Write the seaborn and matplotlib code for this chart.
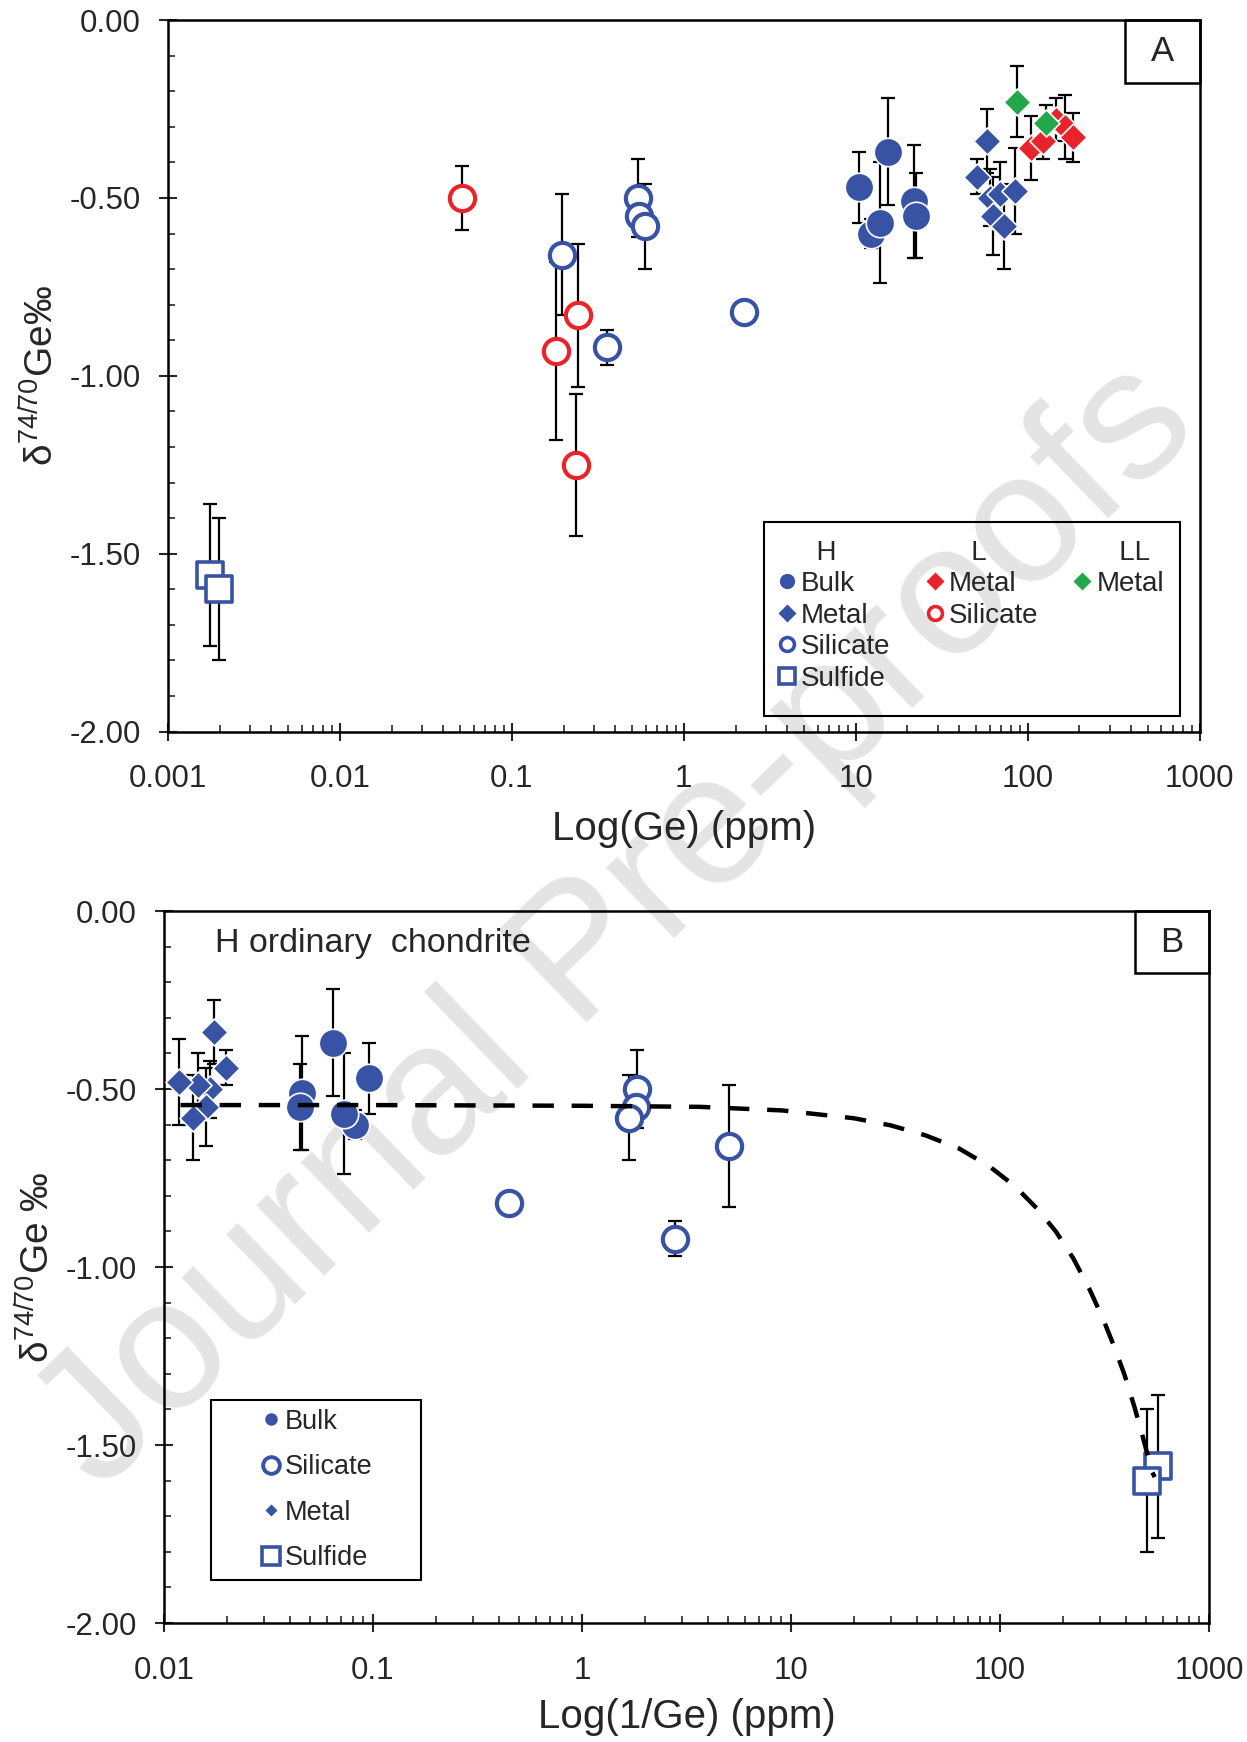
import numpy as np
import pandas as pd
import matplotlib
matplotlib.use("Agg")
import matplotlib.pyplot as plt
import seaborn as sns
from matplotlib.lines import Line2D
from matplotlib.patches import Rectangle
from matplotlib.ticker import MultipleLocator, LogLocator, FuncFormatter, NullFormatter

# ---- data (Ge in ppm, delta74/70Ge in permil) ----
# H chondrite
h_bulk_ge = [10.4, 12.2, 13.8, 15.5, 21.9, 22.3]
h_bulk_d = [-0.47, -0.60, -0.57, -0.37, -0.51, -0.55]
h_bulk_err = [0.10, 0.04, 0.17, 0.15, 0.16, 0.12]

h_metal_ge = [50.6, 57.8, 60.0, 63.0, 69.0, 72.5, 84.7]
h_metal_d = [-0.44, -0.34, -0.50, -0.55, -0.49, -0.58, -0.48]
h_metal_err = [0.05, 0.09, 0.08, 0.11, 0.09, 0.12, 0.12]

h_sil_ge = [0.197, 0.358, 0.543, 0.55, 0.594, 2.23]
h_sil_d = [-0.66, -0.92, -0.50, -0.55, -0.58, -0.82]
h_sil_err = [0.17, 0.05, 0.11, 0.03, 0.12, 0.02]

h_sulf_ge = [0.00176, 0.00198]
h_sulf_d = [-1.56, -1.60]
h_sulf_err = [0.20, 0.20]

# L chondrite
l_metal_ge = [105, 123, 146, 164, 183]
l_metal_d = [-0.36, -0.34, -0.28, -0.30, -0.33]
l_metal_err = [0.09, 0.05, 0.06, 0.09, 0.07]

l_sil_ge = [0.051, 0.18, 0.243, 0.236]
l_sil_d = [-0.50, -0.93, -0.83, -1.25]
l_sil_err = [0.09, 0.25, 0.20, 0.20]

# LL chondrite
ll_metal_ge = [87, 127]
ll_metal_d = [-0.23, -0.29]
ll_metal_err = [0.10, 0.05]

# mixing curve in panel B (1/Ge, delta)
mix_inv = [0.012, 0.1, 1.0, 3.67, 9.06, 20, 30, 44, 63.7, 88.5, 118, 150,
           185, 224, 267, 311, 350, 393, 441, 484, 534, 550]
mix_d = [-0.545, -0.545, -0.547, -0.550, -0.560, -0.582, -0.602, -0.630,
         -0.667, -0.716, -0.773, -0.835, -0.900, -0.975, -1.06, -1.145,
         -1.22, -1.30, -1.395, -1.48, -1.575, -1.59]

BLUE = "#3953A4"
RED = "#E8232A"
GREEN = "#22A84A"

sns.set_style("ticks")
plt.rcParams["font.family"] = ["Liberation Sans", "DejaVu Sans"]
plt.rcParams["mathtext.fontset"] = "custom"
plt.rcParams["mathtext.rm"] = "Liberation Sans"
plt.rcParams["mathtext.it"] = "Liberation Sans:italic"
plt.rcParams["axes.unicode_minus"] = False


def draw_group(ax, x, y, err, color, marker, size, filled, lw=1.0):
    ax.errorbar(x, y, yerr=err, fmt="none", ecolor="black", elinewidth=1.6,
                capsize=5, capthick=1.6, zorder=2)
    df = pd.DataFrame({"x": x, "y": y})
    if filled:
        sns.scatterplot(data=df, x="x", y="y", marker=marker, s=size, color=color,
                        edgecolor="white", linewidth=lw, ax=ax, zorder=3)
    else:
        sns.scatterplot(data=df, x="x", y="y", marker=marker, s=size, color="white",
                        edgecolor=color, linewidth=lw, ax=ax, zorder=3)


def style_axes(ax, xmin, xmax):
    ax.set_xscale("log")
    ax.set_xlim(xmin, xmax)
    ax.set_ylim(-2.0, 0.0)
    ax.set_facecolor("none")
    ax.yaxis.set_major_locator(MultipleLocator(0.5))
    ax.yaxis.set_minor_locator(MultipleLocator(0.1))
    ax.xaxis.set_major_locator(LogLocator(base=10, numticks=20))
    ax.xaxis.set_minor_locator(LogLocator(base=10, subs=np.arange(2, 10), numticks=50))
    ax.xaxis.set_minor_formatter(NullFormatter())
    ax.xaxis.set_major_formatter(FuncFormatter(lambda v, p: f"{v:g}"))
    ax.yaxis.set_major_formatter(FuncFormatter(lambda v, p: f"{v:.2f}"))
    ax.tick_params(which="major", direction="inout", length=13, width=1.5,
                   labelsize=22.5, top=False, right=False)
    ax.tick_params(axis="x", which="major", pad=17)
    ax.tick_params(axis="y", which="major", pad=13)
    ax.tick_params(which="minor", direction="in", length=5, width=1.2,
                   top=False, right=False)
    for sp in ax.spines.values():
        sp.set_linewidth(1.8)
        sp.set_color("black")


def panel_box(ax, x0, y0, label):
    ax.add_patch(Rectangle((x0, y0), 1.0 - x0, 1.0 - y0, transform=ax.transAxes,
                           fill=False, edgecolor="black", linewidth=1.8, zorder=5,
                           clip_on=False))
    ax.text((x0 + 1.0) / 2, (y0 + 1.0) / 2, label, transform=ax.transAxes,
            ha="center", va="center", fontsize=25, zorder=6)


fig = plt.figure(figsize=(12.47, 17.42), dpi=100)
axA = fig.add_axes([0.1347, 0.580, 0.962 - 0.1347, 0.9885 - 0.580])
axB = fig.add_axes([0.1315, 0.0683, 0.9695 - 0.1315, 0.477 - 0.0683])

# watermark behind the axes
fig.text(0.4955, 0.468, "Journal Pre-proofs", rotation=44, rotation_mode="anchor",
         ha="center", va="center", fontsize=134, color="#e4e4e4", zorder=-1)

# ---- panel A ----
style_axes(axA, 0.001, 1000)
draw_group(axA, h_sulf_ge, h_sulf_d, h_sulf_err, BLUE, "s", 330, False, 2.6)
draw_group(axA, l_sil_ge, l_sil_d, l_sil_err, RED, "o", 330, False, 3.0)
draw_group(axA, h_sil_ge, h_sil_d, h_sil_err, BLUE, "o", 330, False, 3.0)
draw_group(axA, h_bulk_ge, h_bulk_d, h_bulk_err, BLUE, "o", 420, True, 1.2)
draw_group(axA, h_metal_ge, h_metal_d, h_metal_err, BLUE, "D", 190, True, 1.2)
draw_group(axA, l_metal_ge, l_metal_d, l_metal_err, RED, "D", 190, True, 1.2)
draw_group(axA, ll_metal_ge, ll_metal_d, ll_metal_err, GREEN, "D", 190, True, 1.2)
axA.set_xlabel("Log(Ge) (ppm)", fontsize=29, labelpad=11)
axA.set_ylabel(r"δ$^{74/70}$Ge‰", fontsize=28, labelpad=6)
panel_box(axA, 0.928, 0.911, "A")

blank = Line2D([], [], linestyle="none")
def mk(marker, color, filled, ms, mew=1.0):
    if filled:
        return Line2D([], [], linestyle="none", marker=marker, markersize=ms,
                      markerfacecolor=color, markeredgecolor="white", markeredgewidth=mew)
    return Line2D([], [], linestyle="none", marker=marker, markersize=ms,
                  markerfacecolor="white", markeredgecolor=color, markeredgewidth=mew)

handlesA = [blank, mk("o", BLUE, True, 12), mk("D", BLUE, True, 10),
            mk("o", BLUE, False, 10, 2.6), mk("s", BLUE, False, 11, 2.6),
            blank, mk("D", RED, True, 10), mk("o", RED, False, 10, 2.6), blank, blank,
            blank, mk("D", GREEN, True, 10), blank, blank, blank]
labelsA = ["  H", "Bulk", "Metal", "Silicate", "Sulfide",
           "   L", "Metal", "Silicate", "", "",
           "   LL", "Metal", "", "", ""]
axA.legend(handlesA, labelsA, ncol=3, loc="upper left", bbox_to_anchor=(0.589, 0.270),
           frameon=False, fontsize=20, handlelength=0.8, handletextpad=0.1,
           columnspacing=1.2, labelspacing=0.2, borderpad=0, borderaxespad=0)
axA.add_patch(Rectangle((0.578, 0.0225), 0.981 - 0.578, 0.295 - 0.0225,
                        transform=axA.transAxes, fill=False, edgecolor="black",
                        linewidth=1.5, zorder=5))

# ---- panel B: same H chondrite data against 1/Ge ----
style_axes(axB, 0.01, 1000)
inv = lambda vals: [1.0 / v for v in vals]
sns.lineplot(x=mix_inv, y=mix_d, ax=axB, color="black", linewidth=3.2,
             linestyle=(0, (4.8, 4)), zorder=4)
draw_group(axB, inv(h_sulf_ge), h_sulf_d, h_sulf_err, BLUE, "s", 330, False, 2.6)
draw_group(axB, inv(h_sil_ge), h_sil_d, h_sil_err, BLUE, "o", 330, False, 3.0)
draw_group(axB, inv(h_bulk_ge), h_bulk_d, h_bulk_err, BLUE, "o", 420, True, 1.2)
draw_group(axB, inv(h_metal_ge), h_metal_d, h_metal_err, BLUE, "D", 190, True, 1.2)
axB.set_xlabel("Log(1/Ge) (ppm)", fontsize=29, labelpad=9)
axB.set_ylabel(r"δ$^{74/70}$Ge ‰", fontsize=28, labelpad=6)
panel_box(axB, 0.929, 0.913, "B")
axB.text(0.049, 0.954, "H ordinary  chondrite", transform=axB.transAxes,
         ha="left", va="center", fontsize=24.5)

handlesB = [mk("o", BLUE, True, 10), mk("o", BLUE, False, 12, 2.8),
            mk("D", BLUE, True, 7), mk("s", BLUE, False, 13, 2.6)]
labelsB = ["Bulk", "Silicate", "Metal", "Sulfide"]
axB.legend(handlesB, labelsB, loc="upper left", bbox_to_anchor=(0.092, 0.301),
           frameon=False, fontsize=19.5, handlelength=0.8, handletextpad=0.1,
           labelspacing=0.72, borderpad=0, borderaxespad=0)
axB.add_patch(Rectangle((0.045, 0.0604), 0.246 - 0.045, 0.313 - 0.0604,
                        transform=axB.transAxes, fill=False, edgecolor="black",
                        linewidth=1.5, zorder=5))

fig.savefig("out.png", dpi=100)
